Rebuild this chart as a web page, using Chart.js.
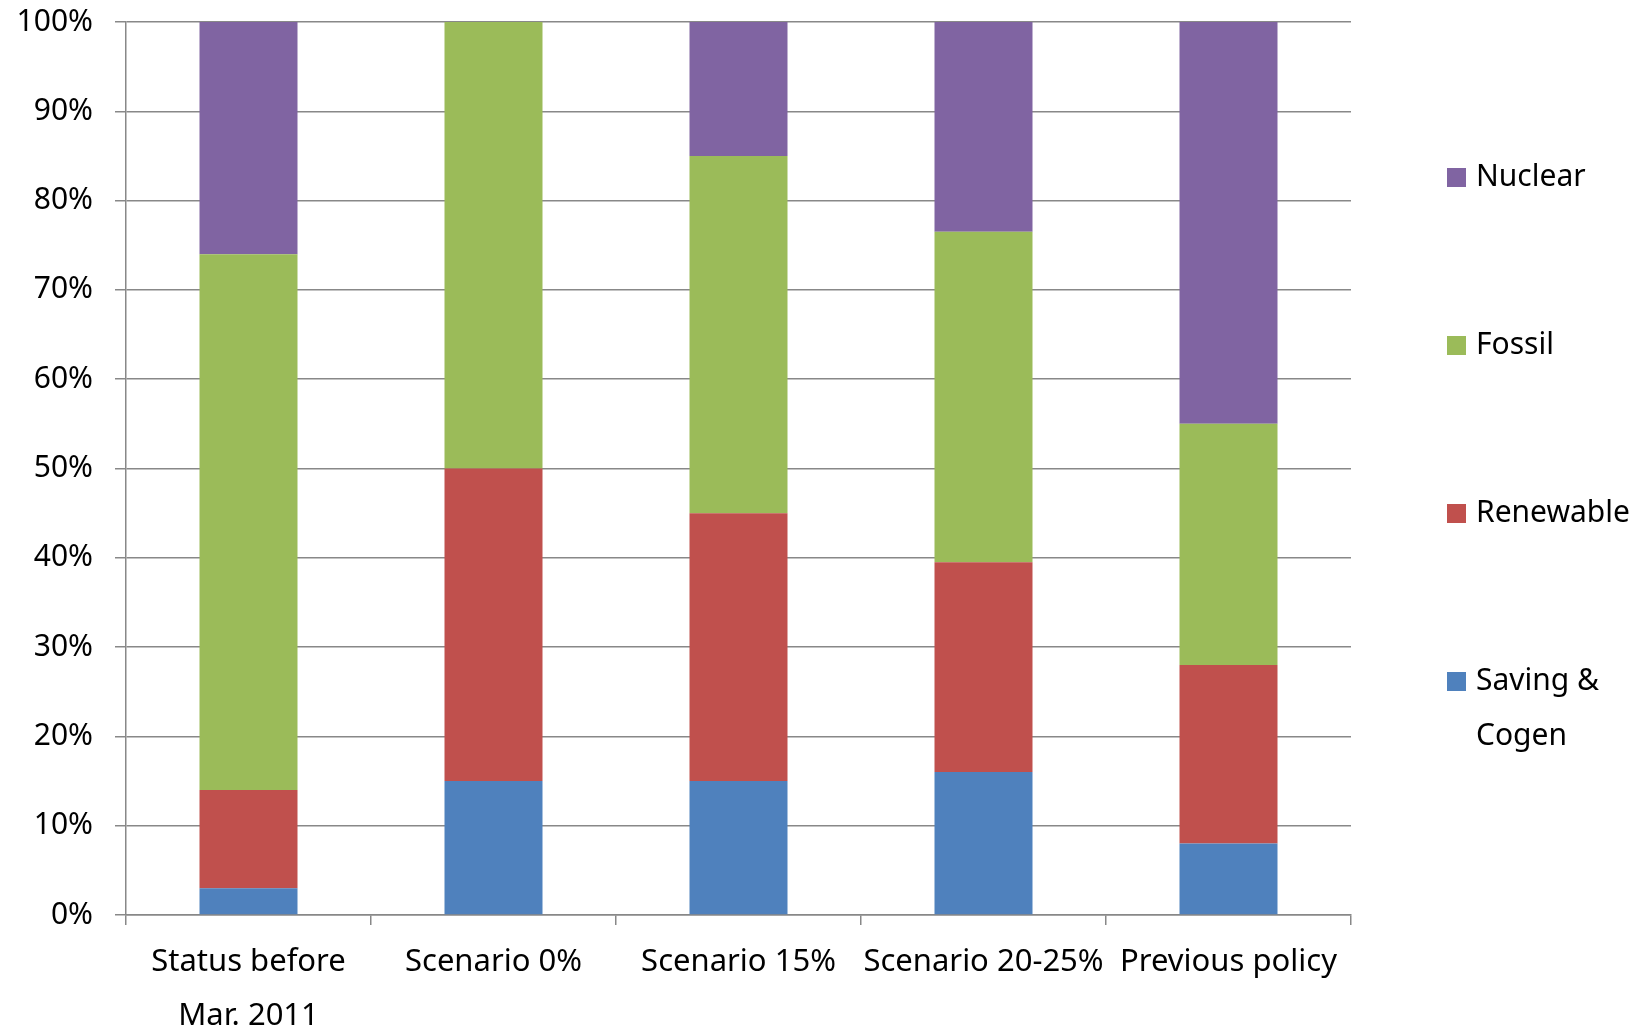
<!DOCTYPE html>
<html>
<head>
<meta charset="utf-8">
<script src="https://cdn.jsdelivr.net/npm/chart.js@4/dist/chart.umd.min.js"></script>
<style>
  html, body { margin: 0; padding: 0; background: #fff; }
  #wrap { width: 1640px; height: 1031px; }
</style>
</head>
<body>
<div id="wrap"><canvas id="myChart" width="1640" height="1031"></canvas></div>
<script>
const categories = [
  ["Status before", "Mar. 2011"],
  "Scenario 0%",
  "Scenario 15%",
  "Scenario 20-25%",
  "Previous policy",
];

// shares in percent, bottom to top
const saving = [3, 15, 15, 16, 8];
const renewable = [11, 35, 30, 23.5, 20];
const fossil = [60, 50, 40, 37, 27];
const nuclear = [26, 0, 15, 23.5, 45];

const yTicks = [0, 10, 20, 30, 40, 50, 60, 70, 80, 90, 100];

const FONT = "'Noto Sans', 'DejaVu Sans', sans-serif";
const GRID = "#888888";

const ctx = document.getElementById("myChart");

// legend on the right, top item first, long names wrapped
const sideLegend = {
  id: "sideLegend",
  afterDraw(chart) {
    const c = chart.ctx;
    const x = chart.chartArea.right + 96;
    const items = chart.data.datasets.slice().reverse();
    c.save();
    c.font = "30px " + FONT;
    c.textBaseline = "middle";
    c.textAlign = "left";
    items.forEach((ds, i) => {
      const y = 177 + i * 168;
      c.fillStyle = ds.backgroundColor;
      c.fillRect(x, y - 9, 19, 19);
      const words = ds.label.split(" ");
      const lines = [];
      let line = "";
      words.forEach((w) => {
        const test = line ? line + " " + w : w;
        if (line && c.measureText(test).width > 165) {
          lines.push(line);
          line = w;
        } else {
          line = test;
        }
      });
      lines.push(line);
      c.fillStyle = "#000";
      lines.forEach((t, j) => c.fillText(t, x + 29, y + j * 55));
    });
    c.restore();
  },
};

const data = {
  labels: categories,
  datasets: [
    { label: "Saving & Cogen", data: saving, backgroundColor: "#4F81BD" },
    { label: "Renewable", data: renewable, backgroundColor: "#C0504D" },
    { label: "Fossil", data: fossil, backgroundColor: "#9BBB59" },
    { label: "Nuclear", data: nuclear, backgroundColor: "#8064A2" },
  ],
};

data.datasets.forEach((ds) => {
  ds.barPercentage = 0.4;
  ds.categoryPercentage = 1;
  ds.borderWidth = 0;
});

const myChart = new Chart(ctx, {
  type: "bar",
  data: data,
  options: {
    responsive: false,
    animation: false,
    layout: { padding: { top: 22, right: 289, bottom: 0, left: 0 } },
    plugins: {
      legend: { display: false },
      tooltip: { enabled: false },
    },
    scales: {
      x: {
        stacked: true,
        afterFit: (scale) => {
          scale.height = 116;
        },
        grid: {
          display: true,
          offset: true,
          drawOnChartArea: false,
          color: GRID,
          lineWidth: 1.5,
          tickLength: 10,
        },
        border: { color: GRID, width: 1.5 },
        ticks: {
          color: "#000",
          font: { family: FONT, size: 31, lineHeight: 1.75 },
          padding: 10,
          maxRotation: 0,
          autoSkip: false,
        },
      },
      y: {
        stacked: true,
        min: 0,
        max: 100,
        afterFit: (scale) => {
          scale.width = 126;
          scale.paddingTop = 0;
          scale.paddingBottom = 0;
        },
        afterBuildTicks: (scale) => {
          scale.ticks = yTicks.map((v) => ({ value: v }));
        },
        grid: { color: GRID, lineWidth: 1.5, tickLength: 11 },
        border: { color: GRID, width: 1.5 },
        ticks: {
          color: "#000",
          font: { family: FONT, size: 30 },
          padding: 22,
          callback: (v) => v + "%",
        },
      },
    },
  },
  plugins: [sideLegend],
});
</script>
</body>
</html>
